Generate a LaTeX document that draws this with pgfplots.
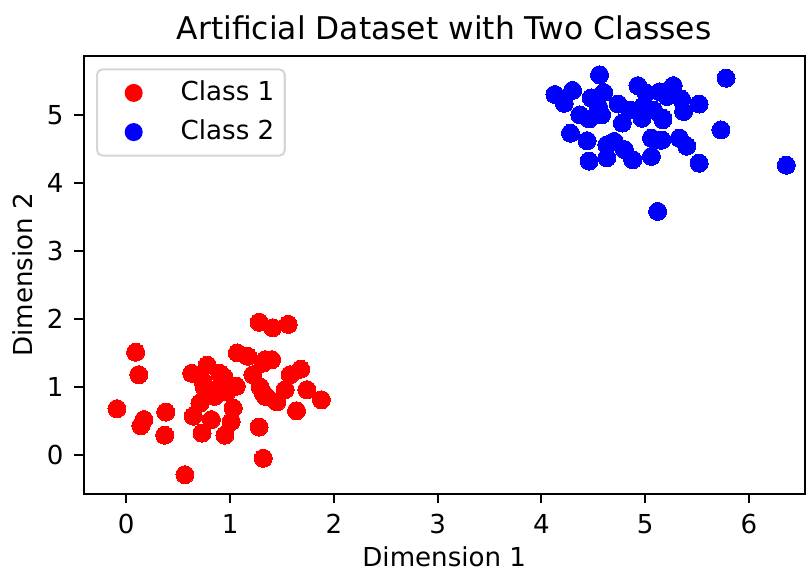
\documentclass[border=0pt]{standalone}
\usepackage{pgfplots}
\pgfplotsset{compat=1.18}
\usepackage{fontspec}
\setmainfont{DejaVu Sans}
\definecolor{legframe}{gray}{0.84}
\begin{document}
\begin{tikzpicture}
\begin{axis}[
  scale only axis,
  width=276.3pt, height=167.8pt,
  xmin=-0.412, xmax=6.539,
  ymin=-0.574, ymax=5.868,
  xtick={0,1,2,3,4,5,6},
  ytick={0,1,2,3,4,5},
  tick align=outside,
  xtick pos=left, ytick pos=left,
  major tick length=3.5pt,
  tick style={black, line width=0.8pt},
  axis line style={line width=0.8pt},
  /pgf/number format/assume math mode=true,
  ticklabel style={font=\fontsize{10}{12}\selectfont, inner sep=0pt},
  xticklabel style={yshift=-4pt},
  yticklabel style={xshift=-4pt},
  xlabel={Dimension 1},
  ylabel={Dimension 2},
  xlabel style={at={([yshift=-27.8pt]axis description cs:0.5,0)}, anchor=base, inner sep=0pt, font=\fontsize{10}{12}\selectfont},
  ylabel style={at={([xshift=-19.5pt]axis description cs:0,0.5)}, anchor=base, rotate=0, inner sep=0pt, font=\fontsize{10}{12}\selectfont},
  title={Artificial Dataset with Two Classes},
  title style={at={([yshift=0.4pt]axis description cs:0.5,1)}, anchor=base, inner sep=0pt, font=\fontsize{12}{14}\selectfont},
  legend style={at={(0.0174,0.9714)}, anchor=north west, draw=legframe, line width=0.8pt, rounded corners=2pt,
    font=\fontsize{10}{12}\selectfont, inner xsep=4pt, inner ysep=4pt, row sep=5pt, column sep=0pt,
    nodes={inner sep=0pt, text height=8pt, text depth=2pt}},
  legend cell align=left,
  legend image code/.code={\path[draw=none, fill=none] (0pt,-5pt) rectangle (28pt,5pt); \fill[#1, draw=none] (10pt,0pt) circle (3.45pt);},
]
\addplot[only marks, mark=*, mark size=3.45pt, color=red, mark options={fill=red, draw=red, line width=0pt}] coordinates {
(0.09,1.51)(0.12,1.18)(-0.09,0.68)(0.17,0.52)(0.14,0.43)(0.38,0.63)(0.37,0.29)(0.565,-0.29)
(0.63,1.20)(0.78,1.32)(0.75,1.0)(0.71,0.76)(0.645,0.57)(0.82,0.52)(0.73,0.32)(0.95,0.29)
(1.28,1.95)(1.41,1.87)(1.56,1.92)(1.07,1.50)(1.17,1.45)(1.40,1.40)(1.32,1.35)(1.68,1.26)
(1.58,1.18)(1.06,1.01)(1.53,0.96)(1.74,0.96)(1.32,0.91)(1.45,0.78)(1.88,0.81)(1.64,0.65)
(1.03,0.69)(1.01,0.49)(1.28,0.41)(1.32,-0.05)(1.22,1.18)(1.29,1.0)(1.35,0.86)(0.94,1.15)
(0.90,1.20)(0.74,1.08)(0.93,1.05)(0.85,0.86)(1.34,1.40)(0.87,0.96)(0.97,0.93)(1.34,0.86)
};
\addlegendentry{Class 1}
\addplot[only marks, mark=*, mark size=3.45pt, color=blue, mark options={fill=blue, draw=blue, line width=0pt}] coordinates {
(4.56,5.59)(4.13,5.30)(4.30,5.36)(4.22,5.17)(4.48,5.25)(4.60,5.33)(4.55,5.12)(4.37,5.0)
(4.46,4.94)(4.58,5.0)(4.74,5.16)(4.78,4.88)(4.85,5.07)(4.93,5.43)(5.01,5.32)(4.98,5.13)
(4.97,4.95)(5.08,5.07)(5.14,5.34)(5.17,4.95)(4.28,4.73)(4.44,4.62)(4.63,4.56)(4.70,4.61)
(4.80,4.49)(4.88,4.34)(4.63,4.37)(4.46,4.32)(5.06,4.66)(5.14,4.63)(5.06,4.39)(5.12,3.58)
(5.78,5.54)(5.27,5.43)(5.21,5.27)(5.35,5.23)(5.52,5.16)(5.37,5.05)(5.17,4.93)(5.73,4.78)
(5.16,4.63)(5.33,4.66)(5.40,4.54)(5.52,4.29)(6.36,4.26)
};
\addlegendentry{Class 2}
\end{axis}
\pgfresetboundingbox
\path ([xshift=-32pt,yshift=-29.9pt]current axis.south west) rectangle ([xshift=0.8pt,yshift=21.4pt]current axis.north east);
\end{tikzpicture}
\end{document}
